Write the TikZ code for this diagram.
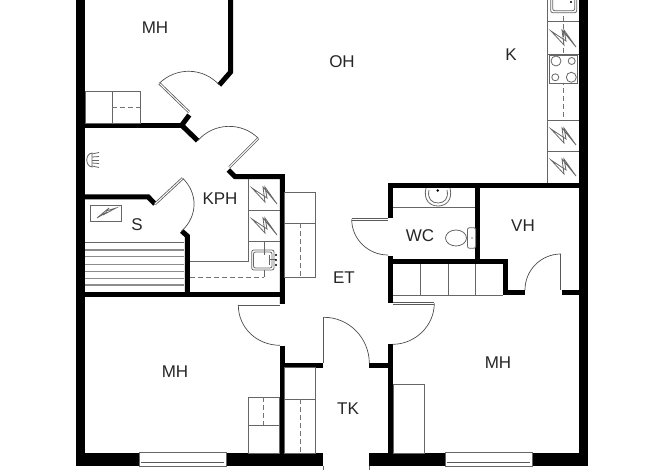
\documentclass[tikz,border=0pt]{standalone}
\usepackage{fontspec}
\setmainfont{Liberation Sans}
\tikzset{
    wall/.style={line width=5pt, line join=miter},
    fixture/.style={line width=0.8pt, draw=black!60},
    hidden/.style={line width=0.9pt, draw=black!55, dash pattern=on 5pt off 3pt},
    leaf/.style={line width=0.8pt, draw=black!65, double=white, double distance=1pt},
    swing/.style={line width=0.7pt, draw=black!70},
    bench/.style={line width=1.3pt, draw=black!45},
    roomname/.style={font=\fontsize{17}{17}\selectfont, text=black!85, inner sep=0pt, yshift=-0.8pt}
}
% one bolt symbol, centred, for the appliances
\newcommand{\bolt}[2]{\draw[fixture, line join=miter] (#1-12,#2-7) -- (#1+1,#2+7) -- (#1-1,#2-8) -- (#1+13,#2+9) -- (#1+1,#2-8) -- (#1+3,#2+3) -- cycle;}
\begin{document}
\begin{tikzpicture}[x=1pt, y=-1pt]
    \useasboundingbox (0,0) rectangle (670,470);

    % outer walls
    \fill (75.7,0) rectangle (85,466);
    \fill (579.3,0) rectangle (588.3,466);
    \fill (75.7,452.7) rectangle (139.3,466);
    \fill (226,452.7) rectangle (323.3,466);
    \fill (369.3,452.7) rectangle (445.3,466);
    \fill (532,452.7) rectangle (588.3,466);

    % windows
    \foreach \xa/\xb in {139.3/226, 445.3/532} {
        \draw[fixture] (\xa,452.7) rectangle (\xb,466);
        \draw[leaf] (\xa+2,462) -- (\xb-2,462);
    }

    % inner walls
    \draw[wall] (230.6,0) -- (230.6,72) -- (219.3,85);
    \draw[wall] (85,125.3) -- (181.7,125.3);
    \draw[wall] (189.3,115) -- (181.7,125.3) -- (197.7,140.7);
    \draw[wall] (228.3,170) -- (235,176.7) -- (282.3,176.7) -- (282.3,304);
    \draw[wall] (85,197) -- (148.3,197) -- (155,204);
    \draw[wall] (181.7,231) -- (187.3,236) -- (187.3,295);
    \draw[wall] (85,295) -- (282.3,295);
    \draw[wall] (282,346) -- (282,453);
    \draw[wall] (282,365.7) -- (323.3,365.7);
    \draw[wall] (369.3,365.7) -- (390.7,365.7);
    \draw[wall] (390.7,344.3) -- (390.7,453);
    \draw[wall] (390.7,218.3) -- (390.7,185.3) -- (580,185.3);
    \draw[wall] (390.7,256) -- (390.7,302.7);
    \draw[wall] (477.7,185.3) -- (477.7,261.7);
    \draw[wall] (390.7,261.7) -- (505.7,261.7) -- (505.7,292.7) -- (525,292.7);
    \draw[wall] (561.7,292.7) -- (580,292.7);

    % doors
    \draw[leaf] (189,112) -- (159.3,83.3);
    \draw[swing] (159.3,83.3) .. controls (176,67) and (203,67) .. (219.3,85);
    \draw[leaf] (258.3,138.3) -- (229.3,167.3);
    \draw[swing] (197.7,140.7) .. controls (214,122) and (242,122) .. (258.3,138.3);
    \draw[leaf] (155,204) -- (182.7,178.3);
    \draw[swing] (182.7,178.3) .. controls (198,193) and (198,216) .. (181.7,231);
    \draw[leaf] (238.3,305) -- (280,305);
    \draw[swing] (238.3,305) .. controls (238.3,328) and (257,345.3) .. (280,345.3);
    \draw[leaf] (324,317.3) -- (324,363);
    \draw[swing] (324,317.3) .. controls (349,317.3) and (369.3,338) .. (369.3,363.3);
    \draw[leaf] (392.7,303.3) -- (434.3,303.3);
    \draw[swing] (434.3,303.3) .. controls (434.3,326) and (415,344.3) .. (392.7,344.3);
    \draw[leaf] (351.7,219.3) -- (388,219.3);
    \draw[swing] (351.7,219.3) .. controls (351.7,239) and (368,255) .. (388,255);
    \draw[leaf] (561,254) -- (561,290);
    \draw[swing] (561,254) .. controls (541,254) and (525,270) .. (525,290);

    % entrance
    \draw[fixture] (323.3,466) -- (323.3,470);
    \draw[fixture] (369.3,466) -- (369.3,470);

    % wardrobes
    \draw[fixture] (85,91.7) rectangle (140,123);
    \draw[fixture] (112.3,91.7) -- (112.3,123);
    \draw[hidden] (112.3,107.3) -- (140,107.3);
    \draw[fixture] (284.7,192.3) rectangle (315.7,277);
    \draw[fixture] (284.7,223.3) -- (315.7,223.3);
    \draw[hidden] (300,223.3) -- (300,277);
    \draw[fixture] (248.3,397.3) rectangle (279.7,453);
    \draw[fixture] (248.3,425.3) -- (279.7,425.3);
    \draw[hidden] (263.7,397.3) -- (263.7,425.3);
    \draw[fixture] (284.7,367) rectangle (315.7,453);
    \draw[fixture] (284.7,399.3) -- (315.7,399.3);
    \draw[hidden] (300,399.3) -- (300,453);
    \draw[fixture] (393,384.7) rectangle (424,453);

    % sauna
    \draw[fixture] (90.7,205) rectangle (121,221);
    \draw[fixture, line join=miter] (97,218) -- (107,212) -- (103,215) -- (116,208) -- (106,211) -- (109,208) -- cycle;
    \draw[fixture] (85,242.7) -- (184,242.7);
    \foreach \y in {250,256.7,264.3,271.7,278.3,285} {
        \draw[bench] (85,\y) -- (184,\y);
    }
    % shower
    \draw[fixture] (92,153) .. controls (85,154) and (85,166) .. (92,167) -- cycle;
    \foreach \ya/\yb in {154/152.5,157/156.5,160/160,163/163.5,166/167.5} {
        \draw[fixture] (92,\ya) -- (99,\yb);
    }

    % kph counter
    \draw[fixture] (248.3,179.3) -- (248.3,261.7) -- (190,261.7);
    \draw[fixture] (248.3,210.7) -- (279.7,210.7);
    \draw[fixture] (248.3,241.7) -- (279.7,241.7);
    \draw[hidden] (190,277) -- (264,277);
    \draw[fixture] (264,241.7) -- (264,277);
    \draw[fixture, fill=white, rounded corners=2pt] (251.7,250) rectangle (274,270);
    \draw[fixture, rounded corners=2pt] (253.5,252) rectangle (272,268);
    \draw[fixture] (264,247) -- (264,255);
    \draw[fixture] (269,255) -- (269,265);
    \draw[fixture] (269,259.7) -- (276,259.7);
    \foreach \y in {255,260,265} {
        \fill (276,\y) circle (1.1pt);
    }
    \bolt{264}{195}
    \bolt{264}{226}

    % wc
    \draw[fixture] (393,207.7) -- (475,207.7);
    \draw[fixture] (426,188) .. controls (423,200) and (430,206) .. (438,206) .. controls (446,206) and (453,200) .. (450,188);
    \draw[fixture] (429,190) .. controls (427,199) and (432,203) .. (438,203) .. controls (444,203) and (449,199) .. (447,190);
    \fill (437.7,190.5) circle (1.4pt);
    \draw[fixture] (456,238) ellipse (10.5 and 8);
    \draw[fixture, fill=white, rounded corners=2pt] (467.5,227.7) rectangle (475.7,248.3);
    \fill (472,238) circle (0.7pt);

    % storage
    \draw[fixture] (393,295.3) -- (503,295.3);
    \foreach \x in {420.7,448.3,475.7} {
        \draw[fixture] (\x,264) -- (\x,295.3);
    }

    % kitchen
    \draw[fixture] (547.3,0) -- (547.3,183);
    \foreach \y in {21.7,54,120,151.7} {
        \draw[fixture] (547.3,\y) -- (579.3,\y);
    }
    \draw[hidden] (563.3,0) -- (563.3,120);
    \draw[fixture, fill=white, rounded corners=2pt] (550.7,-4) rectangle (576.7,12.7);
    \draw[fixture, rounded corners=2pt] (552.7,-4) rectangle (574.7,10.7);
    \fill (571,2) circle (1.2pt);
    \draw[fixture, fill=white, line width=1.2pt] (549.3,55) rectangle (577.7,83.3);
    \draw[fixture] (556,61) circle (5);
    \draw[fixture] (571.7,61) circle (3.5);
    \draw[fixture] (555.3,77.3) circle (3.5);
    \draw[fixture] (571.3,77.3) circle (5);
    \bolt{563}{38}
    \bolt{563}{136}
    \bolt{563}{167}

    % room names
    \node[roomname] (mhtop) at (155,27) {MH};
    \node[roomname] (oh) at (342,61) {OH};
    \node[roomname] (k) at (511,54) {K};
    \node[roomname] (kph) at (220,198) {KPH};
    \node[roomname] (s) at (137,224) {S};
    \node[roomname] (wc) at (420,235) {WC};
    \node[roomname] (vh) at (523,225) {VH};
    \node[roomname] (et) at (344,277) {ET};
    \node[roomname] (mhleft) at (175,371) {MH};
    \node[roomname] (tk) at (348,408) {TK};
    \node[roomname] (mhright) at (498,362) {MH};
\end{tikzpicture}
\end{document}
